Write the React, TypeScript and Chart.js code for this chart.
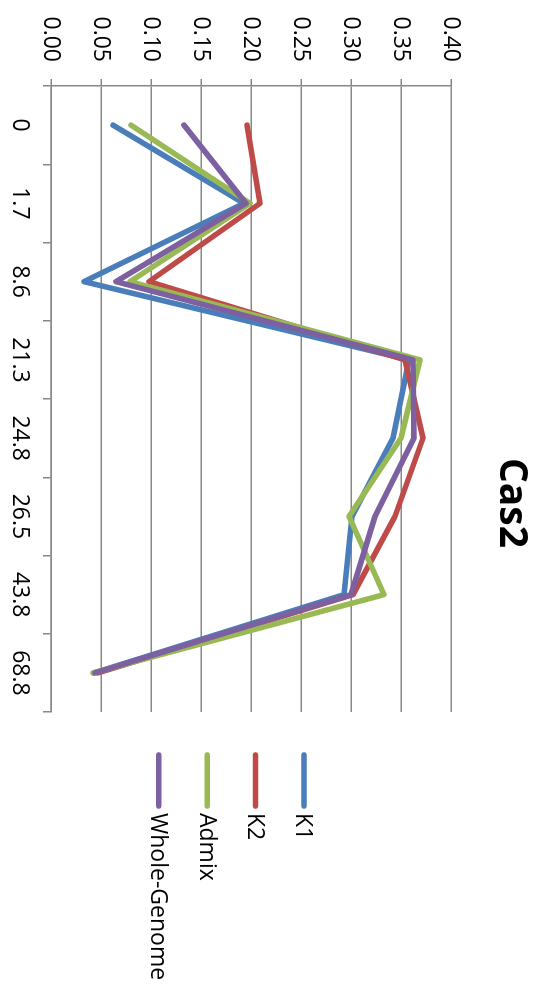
import React, { useEffect, useRef } from "react";
import { Chart, registerables } from "chart.js";

Chart.register(...registerables);

const chartTitle = "Cas2";
const categories = ["0", "1.7", "8.6", "21.3", "24.8", "26.5", "43.8", "68.8"];
const k1 = [0.062, 0.193, 0.033, 0.358, 0.342, 0.301, 0.293, 0.043];
const k2 = [0.196, 0.209, 0.098, 0.354, 0.372, 0.344, 0.302, 0.047];
const admix = [0.080, 0.199, 0.079, 0.369, 0.350, 0.298, 0.333, 0.042];
const wholeGenome = [0.133, 0.195, 0.065, 0.362, 0.363, 0.324, 0.300, 0.044];
const seriesNames = ["K1", "K2", "Admix", "Whole-Genome"];
const seriesColors = ["#4A7EBB", "#BE4B48", "#98B954", "#7D60A0"];
const yTickValues = [0, 0.05, 0.1, 0.15, 0.2, 0.25, 0.3, 0.35, 0.4];

const FONT = "'Open Sans', 'Liberation Sans', sans-serif";
const GRID = "#878787";

const overlayPlugin = {
  id: "overlay",
  afterDraw(chart: any) {
    const ctx = chart.ctx;
    ctx.save();
    ctx.fillStyle = "#000";
    ctx.textBaseline = "middle";
    ctx.textAlign = "center";
    ctx.font = `bold 39px ${FONT}`;
    ctx.fillText(chartTitle, 503, 29);
    ctx.textAlign = "left";
    ctx.font = `23px ${FONT}`;
    seriesNames.forEach((name, i) => {
      const y = 236 + i * 48.4;
      ctx.strokeStyle = seriesColors[i];
      ctx.lineWidth = 5.5;
      ctx.lineCap = "round";
      ctx.beginPath();
      ctx.moveTo(755, y);
      ctx.lineTo(806, y);
      ctx.stroke();
      ctx.fillText(name, 813, y + 1);
    });
    ctx.restore();
  },
};

export default function App() {
  const ref = useRef<HTMLCanvasElement | null>(null);
  useEffect(() => {
    document.body.style.margin = "0";
    const values = [k1, k2, admix, wholeGenome];
    const chart = new Chart(ref.current as HTMLCanvasElement, {
      type: "line",
      data: {
        labels: categories,
        datasets: values.map((v, i) => ({
          label: seriesNames[i],
          data: v,
          borderColor: seriesColors[i],
          backgroundColor: seriesColors[i],
          borderWidth: 5.5,
          pointRadius: 0,
          tension: 0,
          fill: false,
          borderCapStyle: "round",
          borderJoinStyle: "round",
          order: 3 - i,
        })),
      },
      options: {
        responsive: false,
        animation: false,
        devicePixelRatio: 1,
        layout: { padding: { top: 89, right: 275, left: 0, bottom: 0 } },
        plugins: {
          legend: { display: false },
          title: { display: false },
          tooltip: { enabled: false },
        },
        scales: {
          x: {
            type: "category",
            offset: true,
            grid: {
              offset: true,
              drawOnChartArea: false,
              drawTicks: true,
              tickLength: 8,
              color: GRID,
              lineWidth: 1.5,
            },
            border: { display: true, color: GRID, width: 1.5 },
            ticks: {
              color: "#000",
              font: { family: FONT, size: 23 },
              padding: 10,
              maxRotation: 0,
              autoSkip: false,
            },
            afterFit: (s: any) => {
              s.height = 51;
            },
          },
          y: {
            min: 0,
            max: 0.4,
            grid: { color: GRID, lineWidth: 1.5, tickLength: 7, drawTicks: true },
            border: { display: true, color: GRID, width: 1.5 },
            afterBuildTicks: (s: any) => {
              s.ticks = yTickValues.map((v) => ({ value: v }));
            },
            ticks: {
              color: "#000",
              font: { family: FONT, size: 23 },
              padding: 17,
              callback: (v: any) => Number(v).toFixed(2),
            },
            afterFit: (s: any) => {
              s.width = 86;
            },
          },
        },
      },
      plugins: [overlayPlugin],
    });
    return () => chart.destroy();
  }, []);

  return (
    <div
      style={{
        position: "absolute",
        left: 0,
        top: 0,
        width: 987,
        height: 540,
        transformOrigin: "0 0",
        transform: "translateX(540px) rotate(90deg)",
        background: "#fff",
      }}
    >
      <canvas ref={ref} width={987} height={540} style={{ display: "block" }} />
    </div>
  );
}
